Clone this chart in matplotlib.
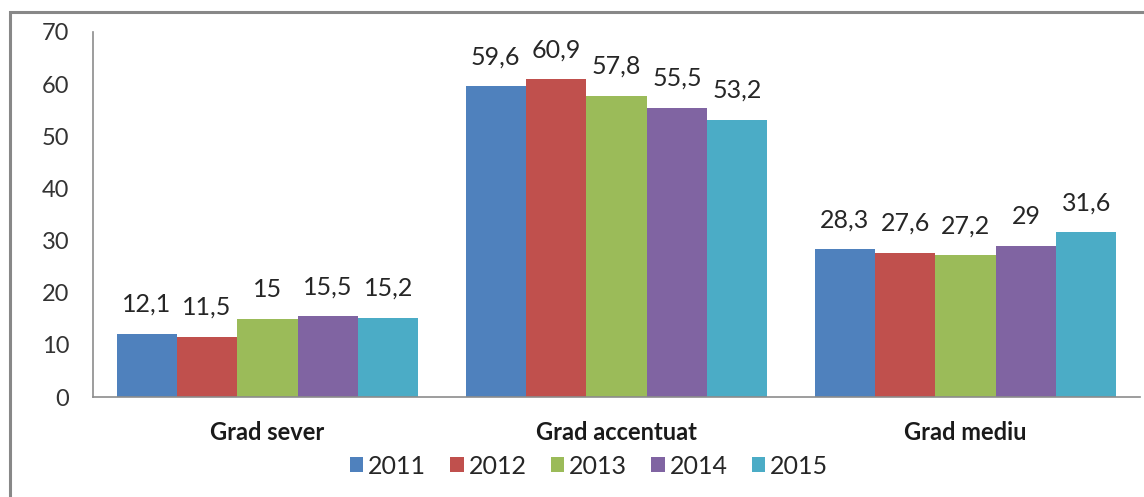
import matplotlib
matplotlib.use("Agg")
import matplotlib.pyplot as plt
from matplotlib.patches import Rectangle
import numpy as np

categories = ["Grad sever", "Grad accentuat", "Grad mediu"]
years = ["2011", "2012", "2013", "2014", "2015"]
values = {
    "2011": [12.1, 59.6, 28.3],
    "2012": [11.5, 60.9, 27.6],
    "2013": [15.0, 57.8, 27.2],
    "2014": [15.5, 55.5, 29.0],
    "2015": [15.2, 53.2, 31.6],
}
colors = ["#4F81BD", "#C0504D", "#9BBB59", "#8064A2", "#4BACC6"]
yticks = [0, 10, 20, 30, 40, 50, 60, 70]

plt.rcParams["font.family"] = ["Lato", "DejaVu Sans"]

fig = plt.figure(figsize=(11.44, 4.97), dpi=100)
ax = fig.add_axes([93 / 1144, 1 - 397 / 497, (1140 - 93) / 1144, (397 - 32) / 497])

x = np.arange(len(categories))
bw = 0.173
for i, (yr, col) in enumerate(zip(years, colors)):
    pos = x + (i - 2) * bw
    bars = ax.bar(pos, values[yr], width=bw, color=col, label=yr, linewidth=0)
    labels = [("%g" % v).replace(".", ",") for v in values[yr]]
    ax.bar_label(bars, labels=labels, padding=13, fontsize=18, color="#262626")

ax.set_xlim(-0.5, 2.5)
ax.set_ylim(0, 70)
ax.set_yticks(yticks)
ax.set_xticks(x)
ax.set_xticklabels(categories, fontweight="bold", fontsize=17, color="#1a1a1a")
ax.tick_params(axis="y", length=0, pad=17, labelsize=17, labelcolor="#333333")
ax.tick_params(axis="x", length=0, pad=17)
for s in ["top", "right"]:
    ax.spines[s].set_visible(False)
for s in ["left", "bottom"]:
    ax.spines[s].set_color("#8c8c8c")
    ax.spines[s].set_linewidth(1.2)

fig.legend(loc="center", bbox_to_anchor=(589 / 1144, 31 / 497), ncol=5, frameon=False,
           fontsize=18, handlelength=0.55, handleheight=0.55, handletextpad=0.2,
           columnspacing=0.95, labelcolor="#262626")

fig.add_artist(Rectangle((10 / 1144, -0.05), 1.2, 1 - 12 / 497 + 0.05,
                         transform=fig.transFigure, fill=False,
                         edgecolor="#888888", linewidth=2.2))

fig.savefig("out.png", dpi=100)
